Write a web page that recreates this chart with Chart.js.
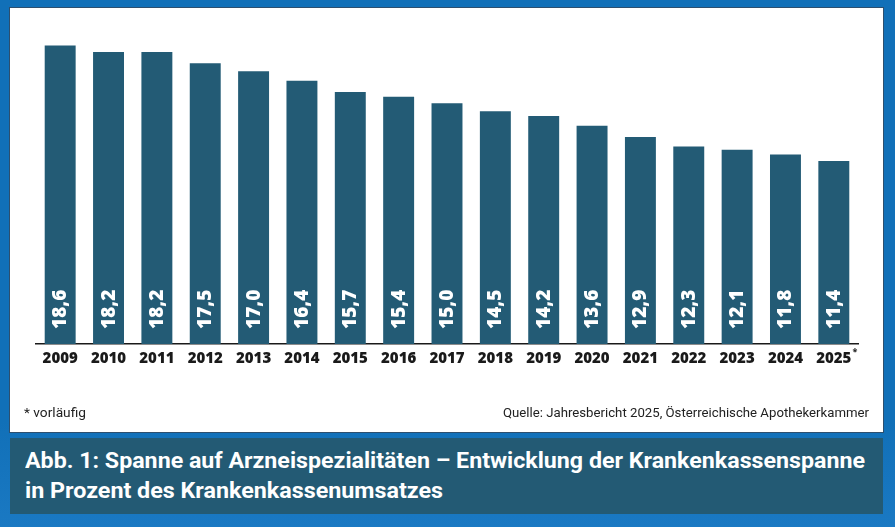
<!DOCTYPE html>
<html lang="de">
<head>
<meta charset="utf-8">
<script src="https://cdn.jsdelivr.net/npm/chart.js@4.4.1/dist/chart.umd.min.js"></script>
<style>
  html, body { margin: 0; padding: 0; }
  body {
    width: 895px; height: 527px; overflow: hidden; position: relative;
    background: linear-gradient(#1170b8, #1170b8 80%, #1a79c3);
    font-family: Roboto, "Open Sans", sans-serif;
  }
  #panel {
    position: absolute; left: 10px; top: 8px; width: 873px; height: 424px;
    background: #fff; box-shadow: 0 0 0 1px #2d4f6e;
  }
  #chart { position: absolute; left: 0; top: 0; }
  .note {
    position: absolute; top: 396px; font-size: 13.5px; color: #222;
    white-space: nowrap; transform-origin: left center;
  }
  #caption {
    position: absolute; left: 10px; top: 438px; width: 873px; height: 76px;
    background: #235a74;
  }
  .capline {
    position: absolute; left: 15px; color: #fff; font-weight: 700;
    font-size: 22px; white-space: nowrap; transform-origin: left top;
  }
</style>
</head>
<body>
<div id="panel">
  <canvas id="chart" width="873" height="424"></canvas>
  <div class="note" id="fn" style="left:14px">* vorläufig</div>
  <div class="note" id="src">Quelle: Jahresbericht 2025, Österreichische Apothekerkammer</div>
</div>
<div id="caption">
  <div class="capline" id="cap1" style="top:10px">Abb. 1: Spanne auf Arzneispezialitäten – Entwicklung der Krankenkassenspanne</div>
  <div class="capline" id="cap2" style="top:40px">in Prozent des Krankenkassenumsatzes</div>
</div>
<script>
const years = ["2009", "2010", "2011", "2012", "2013", "2014", "2015", "2016", "2017",
  "2018", "2019", "2020", "2021", "2022", "2023", "2024", "2025"];
const spanne = [18.6, 18.2, 18.2, 17.5, 17.0, 16.4, 15.7, 15.4, 15.0,
  14.5, 14.2, 13.6, 12.9, 12.3, 12.1, 11.8, 11.4];
const provisional = ["2025"];

const barColor = "#235b75";

// squeeze text into the widths seen in the reference
function fitWidth(id, w) {
  const el = document.getElementById(id);
  const s = w / el.getBoundingClientRect().width;
  el.style.transform = "scaleX(" + s + ")";
}

// white value labels, rotated, at the foot of each bar
const valueLabels = {
  id: "valueLabels",
  afterDatasetsDraw(chart) {
    const ctx = chart.ctx;
    const meta = chart.getDatasetMeta(0);
    const base = chart.scales.y.getPixelForValue(0);
    ctx.save();
    ctx.fillStyle = "#fff";
    ctx.font = "800 19px 'Open Sans'";
    ctx.textAlign = "left";
    ctx.textBaseline = "alphabetic";
    meta.data.forEach((bar, i) => {
      const txt = spanne[i].toFixed(1).replace(".", ",");
      ctx.save();
      ctx.translate(bar.x + 6, base - 15);
      ctx.rotate(-Math.PI / 2);
      ctx.fillText(txt, 0, 0);
      ctx.restore();
    });
    ctx.restore();
  }
};

// small asterisk next to provisional years
const starMark = {
  id: "starMark",
  afterDraw(chart) {
    const xs = chart.scales.x;
    const ctx = chart.ctx;
    ctx.save();
    years.forEach((y, i) => {
      if (!provisional.includes(y)) return;
      ctx.font = "800 15px 'Open Sans'";
      const w = ctx.measureText(y).width;
      const x = xs.getPixelForTick(i) + w / 2 + 1;
      ctx.font = "700 9px 'Open Sans'";
      ctx.fillStyle = "#222";
      ctx.textBaseline = "top";
      ctx.fillText("*", x, xs.top + 4);
    });
    ctx.restore();
  }
};

function draw() {
  fitWidth("cap1", 840);
  fitWidth("cap2", 418);
  fitWidth("fn", 62);
  const src = document.getElementById("src");
  fitWidth("src", 366);
  src.style.left = (859 - 366) + "px";

  new Chart(document.getElementById("chart"), {
    type: "bar",
    data: {
      labels: years,
      datasets: [{
        data: spanne,
        backgroundColor: barColor,
        barPercentage: 0.64,
        categoryPercentage: 1
      }]
    },
    options: {
      responsive: false,
      animation: false,
      layout: { padding: { left: 26, right: 25, top: 15, bottom: 58 } },
      plugins: { legend: { display: false }, tooltip: { enabled: false } },
      scales: {
        x: {
          grid: { display: false, drawTicks: false },
          border: { display: true, color: "#1a1a1a", width: 1.5 },
          ticks: {
            color: "#1a1a1a",
            padding: 6,
            maxRotation: 0,
            font: { family: "'Open Sans'", size: 15, weight: "800" }
          }
        },
        y: { display: false, min: 0, max: 20 }
      }
    },
    plugins: [valueLabels, starMark]
  });
}

Promise.all([
  document.fonts.load("800 15px 'Open Sans'"),
  document.fonts.load("800 19px 'Open Sans'"),
  document.fonts.load("700 22px Roboto"),
  document.fonts.load("400 13px Roboto")
]).then(draw, draw);
</script>
</body>
</html>
